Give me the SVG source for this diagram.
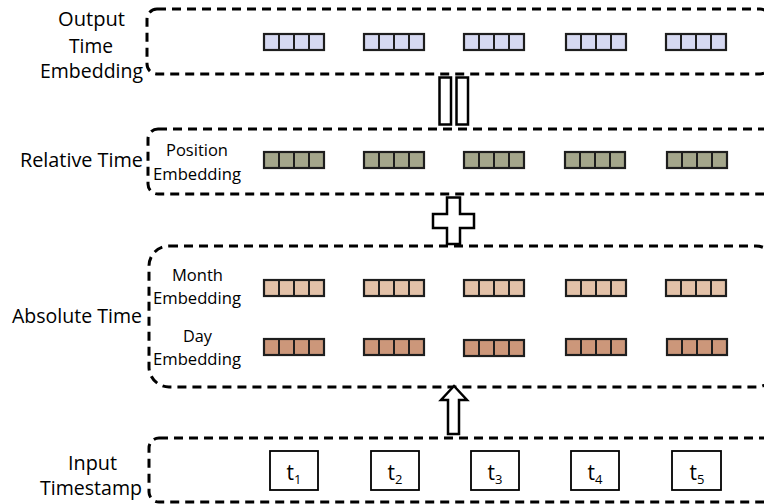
<svg xmlns="http://www.w3.org/2000/svg" xmlns:xlink="http://www.w3.org/1999/xlink" width="764" height="504" viewBox="0 0 764 504">
<style>
.box{fill:none;stroke:#000;stroke-width:3;stroke-dasharray:9 6;}
.lbl{font-family:"Open Sans","Liberation Sans",sans-serif;font-size:20px;fill:#000;}
.sm{font-family:"Open Sans","Liberation Sans",sans-serif;font-size:16.5px;fill:#000;}
.ts{font-family:"Open Sans","Liberation Sans",sans-serif;font-size:21px;fill:#000;text-anchor:middle;}
.tb{fill:#fff;stroke:#000;stroke-width:1.8;}
.conn{fill:#fff;stroke:#000;stroke-width:2.5;stroke-linejoin:miter;}
.out{fill:#d6d9f1;}
.rel{fill:#a4a68b;}
.mon{fill:#e2c1a8;}
.day{fill:#cc977a;}
</style>
<defs>
<g id="bar">
<rect x="0" y="0" width="60" height="16" stroke="#1e1e1e" stroke-width="2.2"/>
<path d="M15 0V16M30 0V16M45 0V16" stroke="#1e1e1e" stroke-width="2" fill="none"/>
</g>
</defs>

<g id="output-time-embedding">
<rect class="box" x="147" y="9" width="623" height="65" rx="10" ry="10"/>
<text class="lbl" x="58" y="26" textLength="67" lengthAdjust="spacingAndGlyphs">Output</text>
<text class="lbl" x="69" y="53" textLength="44" lengthAdjust="spacingAndGlyphs">Time</text>
<text class="lbl" x="40" y="78" textLength="103" lengthAdjust="spacingAndGlyphs">Embedding</text>
<g class="out">
<use xlink:href="#bar" x="264" y="34"/>
<use xlink:href="#bar" x="364" y="34"/>
<use xlink:href="#bar" x="464" y="34"/>
<use xlink:href="#bar" x="566" y="34"/>
<use xlink:href="#bar" x="666" y="34"/>
</g>
</g>

<g id="relative-time">
<rect class="box" x="148" y="129" width="660" height="65" rx="10" ry="10"/>
<text class="lbl" x="20" y="167" textLength="123" lengthAdjust="spacingAndGlyphs">Relative Time</text>
<text class="sm" x="166" y="156" textLength="62" lengthAdjust="spacingAndGlyphs">Position</text>
<text class="sm" x="153" y="180" textLength="88" lengthAdjust="spacingAndGlyphs">Embedding</text>
<g class="rel">
<use xlink:href="#bar" x="264" y="152"/>
<use xlink:href="#bar" x="364" y="152"/>
<use xlink:href="#bar" x="464" y="152"/>
<use xlink:href="#bar" x="565" y="152"/>
<use xlink:href="#bar" x="667" y="152"/>
</g>
</g>

<g id="absolute-time">
<rect class="box" x="149" y="246" width="627" height="141" rx="20" ry="20"/>
<text class="lbl" x="12" y="323" textLength="130" lengthAdjust="spacingAndGlyphs">Absolute Time</text>
<text class="sm" x="172" y="281" textLength="51" lengthAdjust="spacingAndGlyphs">Month</text>
<text class="sm" x="153" y="304" textLength="88" lengthAdjust="spacingAndGlyphs">Embedding</text>
<text class="sm" x="183" y="342" textLength="29" lengthAdjust="spacingAndGlyphs">Day</text>
<text class="sm" x="153" y="365" textLength="88" lengthAdjust="spacingAndGlyphs">Embedding</text>
<g class="mon">
<use xlink:href="#bar" x="264" y="280"/>
<use xlink:href="#bar" x="364" y="280"/>
<use xlink:href="#bar" x="464" y="280"/>
<use xlink:href="#bar" x="566" y="280"/>
<use xlink:href="#bar" x="666" y="280"/>
</g>
<g class="day">
<use xlink:href="#bar" x="264" y="339"/>
<use xlink:href="#bar" x="364" y="339"/>
<use xlink:href="#bar" x="464" y="340"/>
<use xlink:href="#bar" x="566" y="339"/>
<use xlink:href="#bar" x="667" y="339"/>
</g>
</g>

<g id="input-timestamp">
<rect class="box" x="149" y="438" width="660" height="64" rx="10" ry="10"/>
<text class="lbl" x="68" y="470" textLength="49" lengthAdjust="spacingAndGlyphs">Input</text>
<text class="lbl" x="40" y="495" textLength="102" lengthAdjust="spacingAndGlyphs">Timestamp</text>
<rect class="tb" x="270" y="451" width="48" height="39"/>
<rect class="tb" x="371" y="451" width="48" height="39"/>
<rect class="tb" x="471" y="451" width="48" height="39"/>
<rect class="tb" x="571" y="451" width="48" height="39"/>
<rect class="tb" x="672" y="451" width="49" height="39"/>
<text class="ts" x="294" y="480">t<tspan font-size="13" dy="4">1</tspan></text>
<text class="ts" x="395" y="480">t<tspan font-size="13" dy="4">2</tspan></text>
<text class="ts" x="495" y="480">t<tspan font-size="13" dy="4">3</tspan></text>
<text class="ts" x="595" y="480">t<tspan font-size="13" dy="4">4</tspan></text>
<text class="ts" x="697" y="480">t<tspan font-size="13" dy="4">5</tspan></text>
</g>

<g id="connectors">
<rect class="conn" x="439.5" y="77.5" width="11.5" height="47"/>
<rect class="conn" x="456.5" y="77.5" width="11.5" height="47"/>
<polygon class="conn" points="447,197.5 460,197.5 460,214 474,214 474,228 460,228 460,244 447,244 447,228 433,228 433,214 447,214"/>
<polygon class="conn" points="454,386 467,400 459,400 459,434 448,434 448,400 441,400"/>
</g>
</svg>
